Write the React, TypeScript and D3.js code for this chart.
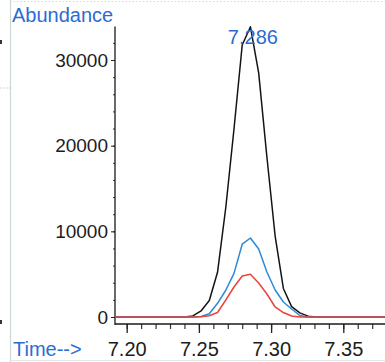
import React, { useRef, useEffect } from 'react';
import { select, scaleLinear, axisLeft, axisBottom, line, range, format } from 'd3';

// scan times (min) and abundances
const times = [7.192, 7.2401, 7.2458, 7.2515, 7.2572, 7.2629, 7.2686, 7.2743, 7.28, 7.2857, 7.2914, 7.2971, 7.3028, 7.3085, 7.3142, 7.3199, 7.3256, 7.3313, 7.38];
const totalIon = [0, 0, 130, 710, 1920, 5220, 12750, 21950, 31750, 33880, 28500, 18680, 9450, 3330, 1210, 480, 100, 0, 0];
const qualIon = [0, 0, 0, 60, 385, 1600, 3120, 5090, 8500, 9220, 7940, 5250, 3150, 1750, 930, 175, 0, 0, 0];
const quantIon = [0, 0, 0, 20, 150, 525, 1985, 3500, 4790, 4985, 3970, 2685, 1170, 525, 117, 0, 0, 0, 0];

const xTicks = [7.2, 7.25, 7.3, 7.35];
const yTicks = [0, 10000, 20000, 30000];
const peakTime = 7.286;
const peakLabel = '7.286';

const W = 385;
const H = 362;
const FONT = '"Liberation Sans", Arial, sans-serif';
const LABEL_BLUE = '#2c6cd2';

const Chart = () => {
  const svgRef = useRef<SVGSVGElement>(null);

  useEffect(() => {
    const svg = select(svgRef.current);
    svg.selectAll('*').remove();

    const x = scaleLinear().domain([7.2, 7.35]).range([126.7, 343.3]);
    const y = scaleLinear().domain([0, 30000]).range([317, 60]);
    const x0 = 115;
    const yAxisPos = 324;

    // page frame bits from the printout
    svg.append('line').attr('x1', 10.5).attr('x2', 10.5).attr('y1', 0).attr('y2', H)
      .attr('stroke', '#c9d8d2').attr('stroke-width', 1.2);
    svg.append('line').attr('x1', 10).attr('x2', W).attr('y1', 1.5).attr('y2', 1.5)
      .attr('stroke', '#cfdcd6').attr('stroke-dasharray', '1.5 2');
    svg.append('line').attr('x1', 0).attr('x2', 10).attr('y1', 88).attr('y2', 88)
      .attr('stroke', '#c2cfca').attr('stroke-dasharray', '1.5 1.5');
    svg.append('line').attr('x1', 10).attr('x2', W).attr('y1', 360.5).attr('y2', 360.5)
      .attr('stroke', '#e2e8e5');
    [42, 322].forEach(py => {
      svg.append('rect').attr('x', 0).attr('y', py - 2).attr('width', 2).attr('height', 4).attr('fill', '#333');
    });

    // y axis
    const yMinor = svg.append('g').attr('transform', `translate(${x0},0)`)
      .call(axisLeft(y).tickValues(range(0, 34000, 2000)).tickSize(2).tickFormat(() => ''));
    yMinor.select('.domain').remove();
    yMinor.selectAll('line').attr('stroke', '#333');

    const yAx = svg.append('g').attr('transform', `translate(${x0},0)`)
      .call(axisLeft(y).tickValues(yTicks).tickSize(4).tickPadding(3).tickFormat(format('d')));
    yAx.select('.domain').remove();
    yAx.selectAll('line').attr('stroke', '#222');
    yAx.selectAll('text').attr('font-size', 19).attr('font-family', FONT).attr('fill', '#1c1c1c');

    svg.append('line').attr('x1', x0).attr('x2', x0).attr('y1', y(33900)).attr('y2', yAxisPos + 1)
      .attr('stroke', '#1a1a1a').attr('stroke-width', 1.3);

    // x axis
    const xMinor = svg.append('g').attr('transform', `translate(0,${yAxisPos})`)
      .call(axisBottom(x).tickValues(range(7.2, 7.375, 0.01)).tickSize(5).tickFormat(() => ''));
    xMinor.select('.domain').remove();
    xMinor.selectAll('line').attr('stroke', '#333').attr('stroke-width', 1.2);

    const xAx = svg.append('g').attr('transform', `translate(0,${yAxisPos})`)
      .call(axisBottom(x).tickValues(xTicks).tickSize(9).tickPadding(9).tickFormat(format('.2f')));
    xAx.select('.domain').remove();
    xAx.selectAll('line').attr('stroke', '#222').attr('stroke-width', 1.3);
    xAx.selectAll('text').attr('font-size', 20).attr('font-family', FONT).attr('fill', '#1c1c1c');

    svg.append('line').attr('x1', x0).attr('x2', W).attr('y1', yAxisPos).attr('y2', yAxisPos)
      .attr('stroke', '#1a1a1a').attr('stroke-width', 1.3);

    // traces
    const trace = line<number>()
      .x((d, i) => x(times[i]))
      .y(d => y(d));

    const series = [
      { values: totalIon, color: '#141414' },
      { values: qualIon, color: '#2a8ad6' },
      { values: quantIon, color: '#e8443c' },
    ];
    svg.selectAll('.trace')
      .data(series)
      .join('path')
      .attr('class', 'trace')
      .attr('d', d => trace(d.values))
      .attr('fill', 'none')
      .attr('stroke', d => d.color)
      .attr('stroke-width', 1.5)
      .attr('stroke-linejoin', 'round');

    // labels
    svg.append('text').attr('x', 12).attr('y', 22).text('Abundance')
      .attr('font-size', 20).attr('font-family', FONT).attr('fill', LABEL_BLUE);
    svg.append('text').attr('x', 13).attr('y', 356).text('Time-->')
      .attr('font-size', 20).attr('font-family', FONT).attr('fill', LABEL_BLUE);
    svg.append('text').attr('x', x(peakTime) + 2).attr('y', 44).text(peakLabel)
      .attr('text-anchor', 'middle')
      .attr('font-size', 20).attr('font-family', FONT).attr('fill', LABEL_BLUE);
  }, []);

  return (
    <svg
      ref={svgRef}
      width={W}
      height={H}
      style={{ position: 'absolute', left: 0, top: 0, background: '#fff' }}
    />
  );
};

export default function App() {
  return <Chart />;
}
